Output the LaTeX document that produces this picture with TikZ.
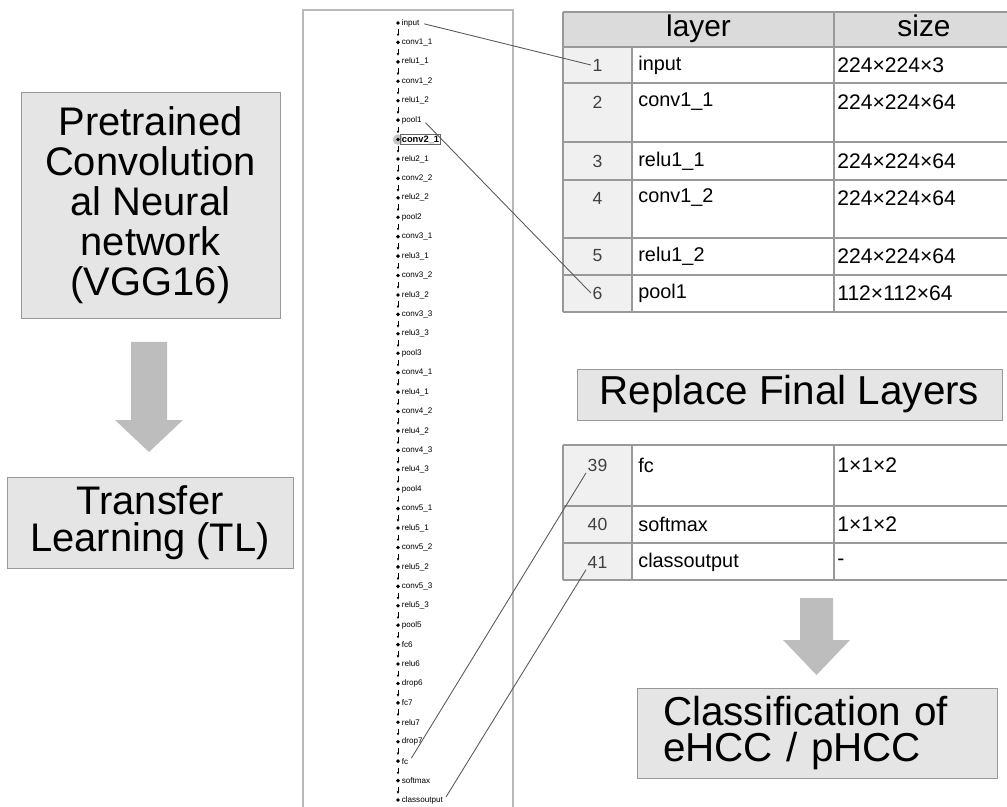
\documentclass[tikz,border=0pt]{standalone}
\usepackage{fontspec}
\setmainfont{Liberation Sans}
\usetikzlibrary{arrows.meta,positioning,calc}
\newcommand{\pxu}{0.02cm}
\definecolor{boxgray}{gray}{0.9}
\definecolor{arrowgray}{gray}{0.74}
\definecolor{headgray}{gray}{0.86}
\definecolor{numgray}{gray}{0.94}
\definecolor{linegray}{gray}{0.6}
\tikzstyle{box}=[draw=linegray, fill=boxgray, inner sep=0pt, align=center]
\tikzstyle{bigtext}=[font=\fontsize{22.7}{22.7}\selectfont]
\tikzstyle{bigarrow}=[fill=arrowgray]
\tikzstyle{layer}=[inner sep=0.6pt, font=\fontsize{4.6}{5}\selectfont]
\tikzstyle{minarrow}=[-{Latex[length=1.5pt,width=1.5pt]}, line width=0.3pt, shorten <=0.13cm, shorten >=0.12cm]
\tikzstyle{cell}=[anchor=west, inner sep=0pt, font=\fontsize{11.3}{13}\selectfont]
\tikzstyle{sizecell}=[anchor=west, inner sep=0pt, font=\fontsize{12}{14}\selectfont]
\tikzstyle{num}=[inner sep=0.8pt, text=black!75, font=\fontsize{10}{12}\selectfont]
\tikzstyle{head}=[anchor=base, inner sep=0pt, font=\fontsize{17}{20}\selectfont]
\tikzstyle{grid}=[draw=linegray, line width=0.6pt]
\tikzstyle{link}=[draw=black!65, line width=0.5pt, shorten <=2pt]
\begin{document}
\begin{tikzpicture}[x=\pxu,y=-\pxu]
\useasboundingbox (0,0) rectangle (1007,807);
\node (cnn) [box, bigtext, minimum width=259*\pxu, minimum height=226*\pxu] at (150.5,205) {Pretrained\\Convolution\\al Neural\\network\\(VGG16)};
\node (tl) [box, font=\fontsize{22.7}{21}\selectfont, minimum width=286*\pxu, minimum height=91*\pxu] at (150,522.5) {Transfer\\Learning (TL)};
\fill[bigarrow] (131,342) -- (167,342) -- (167,420) -- (183,420) -- (149,452) -- (115,420) -- (131,420) -- cycle;
\draw[draw=gray!55, line width=1pt] (303,10) rectangle (513,812);
\fill[gray!45] (398,139.6) circle (3pt);
\foreach \lname [count=\i] in {input,conv1\_1,relu1\_1,conv1\_2,relu1\_2,pool1,\fontsize{5.3}{6}\selectfont\bfseries conv2\_1,relu2\_1,conv2\_2,relu2\_2,pool2,conv3\_1,relu3\_1,conv3\_2,relu3\_2,conv3\_3,relu3\_3,pool3,conv4\_1,relu4\_1,conv4\_2,relu4\_2,conv4\_3,relu4\_3,pool4,conv5\_1,relu5\_1,conv5\_2,relu5\_2,conv5\_3,relu5\_3,pool5,fc6,relu6,drop6,fc7,relu7,drop7,fc,softmax,classoutput}{
  \coordinate (d\i) at (398,{23+(\i-1)*19.425});
  \fill (d\i) circle (1.1pt);
  \node (l\i) [layer, right=1.4pt of d\i] {\lname};
}
\draw[black!60, line width=0.4pt] (l7.south west) rectangle (l7.north east);
\foreach \i [evaluate=\i as \j using int(\i+1)] in {1,...,40}
  \draw[minarrow] (d\i) -- (d\j);
\fill[headgray] (563,12) rectangle (1007,47);
\fill[numgray] (563,47) rectangle (632,312);
\foreach \yy in {12,47,83,142,180,238,275,312}
  \draw[grid] (563,\yy) -- (1007,\yy);
\draw[grid] (563,12) -- (563,312);
\draw[grid] (632,47) -- (632,312);
\draw[grid] (834,12) -- (834,312);
\node (hlayer) [head] at (698.5,37) {layer};
\node (hsize) [head] at (924,37) {size};
\foreach \rn/\rl/\rs/\ry in {1/input/224×224×3/65,2/conv1\_1/224×224×64/102,3/relu1\_1/224×224×64/161,4/conv1\_2/224×224×64/198,5/relu1\_2/224×224×64/256,6/pool1/112×112×64/293}{
  \node (n\rn) [num] at (597.5,\ry) {\rn};
  \node (c\rn) [cell] at (638,\ry) {\rl};
  \node (s\rn) [sizecell] at (837,\ry) {\rs};
}
\node (repl) [box, font=\fontsize{23}{26}\selectfont, minimum width=425*\pxu, minimum height=51*\pxu] at (789.5,394.5) {Replace Final Layers};
\fill[numgray] (563,445) rectangle (632,580);
\foreach \yy in {445,506,543,580}
  \draw[grid] (563,\yy) -- (1007,\yy);
\draw[grid] (563,445) -- (563,580);
\draw[grid] (632,445) -- (632,580);
\draw[grid] (834,445) -- (834,580);
\foreach \rn/\rl/\rs/\ry in {39/fc/1×1×2/465,40/softmax/1×1×2/524,41/classoutput/-/562}{
  \node (n\rn) [num] at (597.5,\ry) {\rn};
  \node (c\rn) [cell] at (638,\ry) {\rl};
  \node (s\rn) [sizecell] at (837,\ry) {\rs};
}
\fill[bigarrow] (800,598) -- (833,598) -- (833,640) -- (850,640) -- (816.5,675) -- (783,640) -- (800,640) -- cycle;
\node (cls) [box, font=\fontsize{23}{21}\selectfont, align=left, text width=308*\pxu, minimum width=360*\pxu, minimum height=90*\pxu] at (817,733) {Classification of\\eHCC / pHCC};
\draw[link] (l1.east) -- (n1.west);
\draw[link] (l6.east) -- (n6.west);
\draw[link] (l39.east) -- (n39.south west);
\draw[link] (l41.east) -- (n41.south west);
\end{tikzpicture}
\end{document}
